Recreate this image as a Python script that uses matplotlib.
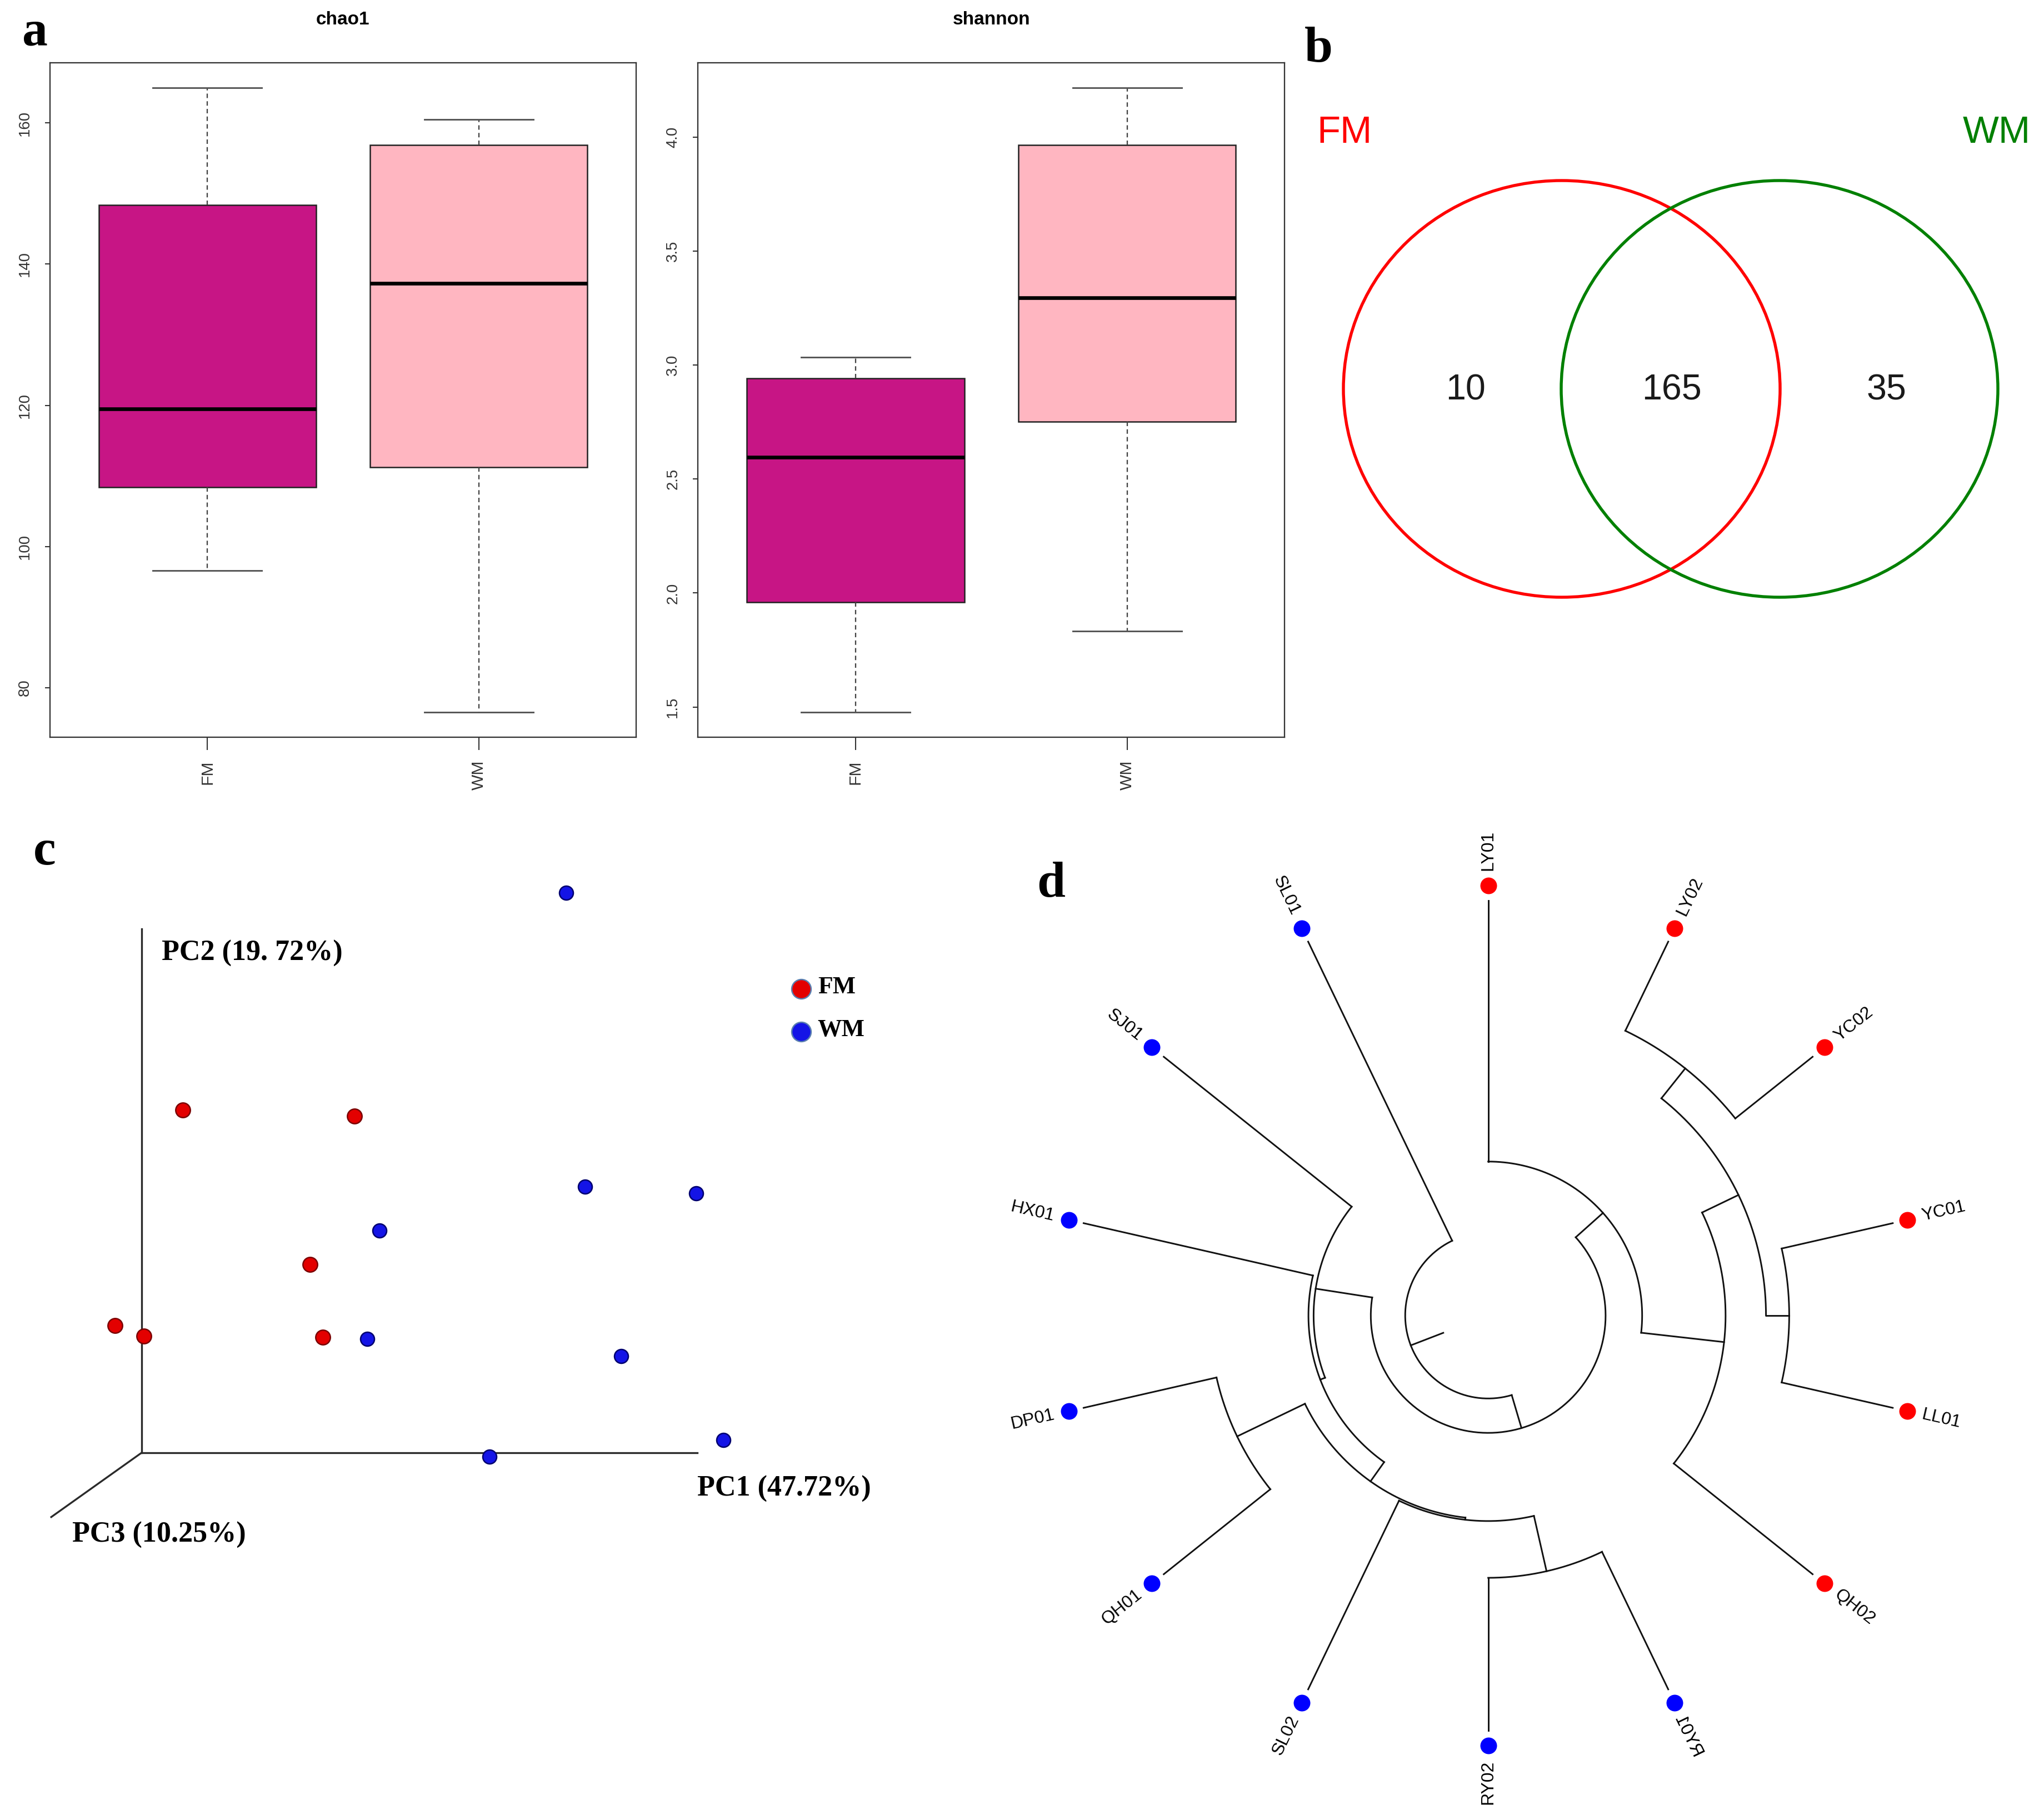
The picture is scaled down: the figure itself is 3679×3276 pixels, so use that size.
import numpy as np
import matplotlib
matplotlib.use("Agg")
import matplotlib.pyplot as plt
from matplotlib.patches import Ellipse, PathPatch
from matplotlib.textpath import TextPath
from matplotlib.font_manager import FontProperties
from matplotlib.transforms import Affine2D

# ---- panel a: alpha diversity boxplots ----
groups = ["FM", "WM"]
box_colors = ["#C71585", "#FFB6C1"]

chao1_whislo = [96.6, 76.5]
chao1_q1 = [108.4, 111.2]
chao1_med = [119.5, 137.3]
chao1_q3 = [148.4, 156.9]
chao1_whishi = [165.0, 160.5]
chao1_ticks = [80, 100, 120, 140, 160]

shannon_whislo = [1.477, 1.834]
shannon_q1 = [1.960, 2.751]
shannon_med = [2.597, 3.295]
shannon_q3 = [2.943, 3.966]
shannon_whishi = [3.034, 4.217]
shannon_ticks = [1.5, 2.0, 2.5, 3.0, 3.5, 4.0]

# ---- panel b: venn counts ----
venn_only_fm = 10
venn_shared = 165
venn_only_wm = 35

# ---- panel c: PCoA, points as projected on the 3D view ----
fm_x = [0.74, 3.83, 3.03, -0.48, 0.04, 3.26]
fm_y = [6.17, 6.06, 3.39, 2.29, 2.10, 2.08]
wm_x = [7.64, 7.98, 9.98, 4.28, 4.06, 8.63, 10.47, 6.26]
wm_y = [10.08, 4.79, 4.67, 4.00, 2.05, 1.74, 0.23, -0.07]
pc_labels = ["PC1 (47.72%)", "PC2 (19. 72%)", "PC3 (10.25%)"]

# ---- panel d: clustering tree (fan layout) ----
leaf_names = ["LY01", "LY02", "YC02", "YC01", "LL01", "QH02", "RY01",
              "RY02", "SL02", "QH01", "DP01", "HX01", "SJ01", "SL01"]
leaf_group = ["FM", "FM", "FM", "FM", "FM", "FM", "WM",
              "WM", "WM", "WM", "WM", "WM", "WM", "WM"]
node_names = ["root", "A", "B", "X", "Y", "Z", "W", "V", "C", "D", "E", "F", "G"]
node_children = [("A", "SL01"), ("B", "C"), ("SJ01", "X"), ("HX01", "Y"),
                 ("Z", "W"), ("DP01", "QH01"), ("SL02", "V"), ("RY02", "RY01"),
                 ("LY01", "D"), ("E", "QH02"), ("F", "G"), ("LY02", "YC02"),
                 ("YC01", "LL01")]
node_radius = [0.193, 0.273, 0.406, 0.418, 0.473, 0.648, 0.478, 0.610,
               0.358, 0.552, 0.646, 0.735, 0.700]
root_edge_start = 0.112

W, H = 3679, 3276
fig = plt.figure(figsize=(W / 300, H / 300), dpi=300)
sans = "Liberation Sans"
serif = "Liberation Serif"
plt.rcParams["font.family"] = [sans, "DejaVu Sans"]


def boxpanel(rect, title, lo, q1, med, q3, hi, ticks, fmt):
    ax = fig.add_axes(rect)
    stats = []
    for i in range(len(groups)):
        stats.append(dict(whislo=lo[i], q1=q1[i], med=med[i], q3=q3[i],
                          whishi=hi[i], fliers=[], label=groups[i]))
    bp = ax.bxp(stats, positions=[1, 2], widths=0.8, capwidths=0.4,
                patch_artist=True, showfliers=False,
                boxprops=dict(edgecolor="#222222", linewidth=0.6),
                medianprops=dict(color="black", linewidth=1.6),
                whiskerprops=dict(color="#444444", linewidth=0.55,
                                  linestyle=(0, (3.5, 2.5))),
                capprops=dict(color="#555555", linewidth=0.7))
    for patch, c in zip(bp["boxes"], box_colors):
        patch.set_facecolor(c)
    vmin, vmax = min(lo), max(hi)
    pad = 0.04 * (vmax - vmin)
    ax.set_ylim(vmin - pad, vmax + pad)
    ax.set_xlim(0.42, 2.58)
    ax.set_yticks(ticks)
    ax.set_yticklabels([fmt.format(t) for t in ticks])
    ax.set_xticks([1, 2])
    ax.set_xticklabels(groups, rotation=90)
    ax.tick_params(axis="y", length=2.2, pad=5.5, labelsize=6.6,
                   labelrotation=90, colors="#333333", width=0.5)
    ax.tick_params(axis="x", length=5.5, pad=4.5, labelsize=7.2,
                   colors="#333333", width=0.5)
    for lbl in ax.get_yticklabels():
        lbl.set_va("center")
    for s in ax.spines.values():
        s.set_linewidth(0.55)
        s.set_color("#333333")
    fig.text(rect[0] + rect[2] / 2, 1 - 35 / H, title, ha="center",
             va="center", fontsize=8, fontweight="bold")
    return ax


boxpanel([89.5 / W, 1 - 1327 / H, 1056 / W, 1214 / H], "chao1",
         chao1_whislo, chao1_q1, chao1_med, chao1_q3, chao1_whishi,
         chao1_ticks, "{:g}")
boxpanel([1256.4 / W, 1 - 1327 / H, 1056 / W, 1214 / H], "shannon",
         shannon_whislo, shannon_q1, shannon_med, shannon_q3, shannon_whishi,
         shannon_ticks, "{:.1f}")

# ---- panel b: venn ----
axb = fig.add_axes([2330 / W, 1 - 1300 / H, 1349 / W, 1300 / H])
axb.set_xlim(2330, 3679)
axb.set_ylim(1300, 0)
axb.axis("off")
cy = 700
axb.add_patch(Ellipse((2811, cy), 786, 750, fill=False, edgecolor="#FF0000", lw=1.3))
axb.add_patch(Ellipse((3203, cy), 786, 750, fill=False, edgecolor="#008000", lw=1.3))
axb.text(2370, 239, groups[0], color="#FF0000", fontsize=16.5, ha="left", va="center")
axb.text(3655, 239, groups[1], color="#008000", fontsize=16.5, ha="right", va="center")
for xx, n in zip([2638, 3009, 3395], [venn_only_fm, venn_shared, venn_only_wm]):
    axb.text(xx, 703, str(n), fontsize=15.5, ha="center", va="center", color="#1a1a1a")

# ---- panel c: PCoA 3D-style ----
axc = fig.add_axes([0, 1 - 3000 / H, 1700 / W, 1550 / H])
axc.set_xlim(-2.548, -2.548 + 17.0)
axc.set_ylim(-3.85, -3.85 + 15.5)
axc.axis("off")
axis_col = "#2a2a2a"
axc.plot([0, 0], [0, 9.43], color=axis_col, lw=0.8)
axc.plot([0, 10.0], [0, 0], color=axis_col, lw=0.8)
axc.plot([0, -1.626], [0, -1.157], color=axis_col, lw=0.8)
axc.scatter(fm_x, fm_y, s=40, color="#E30000", edgecolors="#7a0000",
            linewidths=0.6, zorder=3)
axc.scatter(wm_x, wm_y, s=36, color="#1414E6", edgecolors="#00006e",
            linewidths=0.6, zorder=3)
tfont = dict(family=serif, fontweight="bold", fontsize=12.5)
axc.text(0.36, 8.99, pc_labels[1], ha="left", va="center", **tfont)
axc.text(10.0, -0.65, pc_labels[0], ha="left", va="center", **tfont)
axc.text(-1.25, -1.48, pc_labels[2], ha="left", va="center", **tfont)
leg_cols = ["#E30000", "#1414E6"]
leg_edges = ["#5a7fb0", "#5a7fb0"]
for i, g in enumerate(groups):
    yy = 8.35 - i * 0.77
    axc.scatter([11.87], [yy], s=70, color=leg_cols[i], edgecolors=leg_edges[i],
                linewidths=0.6, zorder=3)
    axc.text(12.17, yy + 0.03, g, ha="left", va="center", family=serif,
             fontweight="bold", fontsize=10.5)

# ---- panel d: fan tree ----
axd = fig.add_axes([1700 / W, 0, 1979 / W, 1826 / H])
cx_px, cy_px, R = 2678.6, 2367.9, 774.0
axd.set_xlim((1700 - cx_px) / R, (3679 - cx_px) / R)
axd.set_ylim((cy_px - 3276) / R, (cy_px - 1450) / R)
axd.axis("off")

n_leaf = len(leaf_names)
pos = {name: float(i) for i, name in enumerate(leaf_names)}
rad = {name: 1.0 for name in leaf_names}
kids = dict(zip(node_names, node_children))
for nm, r in zip(node_names, node_radius):
    rad[nm] = r


def node_pos(nm):
    if nm not in pos:
        pos[nm] = np.mean([node_pos(c) for c in kids[nm]])
    return pos[nm]


node_pos("root")


def ang(p):
    return np.deg2rad(90 - p * 360.0 / n_leaf)


tip_end = 0.965
lc = "#111111"
for nm in node_names:
    r0 = rad[nm]
    p = [pos[c] for c in kids[nm]]
    t = ang(np.linspace(min(p), max(p), 200))
    axd.plot(r0 * np.cos(t), r0 * np.sin(t), color=lc, lw=0.7)
    for c in kids[nm]:
        r1 = tip_end if c in leaf_names else rad[c]
        a = ang(pos[c])
        axd.plot([r0 * np.cos(a), r1 * np.cos(a)], [r0 * np.sin(a), r1 * np.sin(a)],
                 color=lc, lw=0.7)
a = ang(pos["root"])
axd.plot([root_edge_start * np.cos(a), rad["root"] * np.cos(a)],
         [root_edge_start * np.sin(a), rad["root"] * np.sin(a)], color=lc, lw=0.7)

# the source figure renders this one tip label mirrored
mirrored_labels = ["RY01"]
label_fp = FontProperties(family=sans)
label_size = 7.7 * 300 / 72 / R  # font size in data units

grp_col = {"FM": "#FF0000", "WM": "#0000FF"}
for name, g in zip(leaf_names, leaf_group):
    a = ang(pos[name])
    axd.plot(np.cos(a), np.sin(a), "o", ms=7.2, color=grp_col[g], mec="none")
    deg = np.rad2deg(a)
    deg = (deg + 180) % 360 - 180
    lx, ly = 1.035 * np.cos(a), 1.035 * np.sin(a)
    if name in mirrored_labels:
        tp = TextPath((0, 0), name, size=label_size, prop=label_fp)
        ext = tp.get_extents()
        tr = (Affine2D().translate(-ext.x1, -(ext.y0 + ext.y1) / 2)
              .scale(-1, 1).rotate_deg(deg).translate(lx, ly))
        axd.add_patch(PathPatch(tr.transform_path(tp), facecolor="black",
                                edgecolor="none", lw=0))
        continue
    if -90 < deg <= 90:
        rot, ha = deg, "left"
    else:
        rot, ha = deg - 180 if deg > 0 else deg + 180, "right"
    axd.text(lx, ly, name, rotation=rot, ha=ha, va="center",
             rotation_mode="anchor", fontsize=7.7)

# ---- panel letters ----
lfont = dict(family=serif, fontweight="bold", fontsize=22, va="baseline", ha="left")
fig.text(40 / W, 1 - 81 / H, "a", **lfont)
fig.text(2348 / W, 1 - 111 / H, "b", **lfont)
fig.text(60 / W, 1 - 1556 / H, "c", **lfont)
fig.text(1866 / W, 1 - 1614 / H, "d", **lfont)

fig.savefig("out.png", dpi=300, facecolor="white")
